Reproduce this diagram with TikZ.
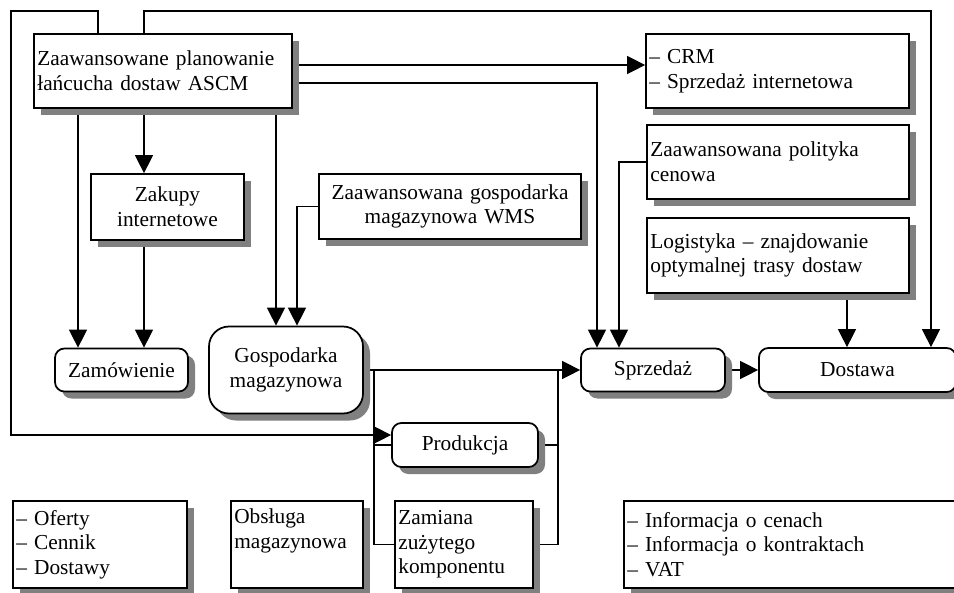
\documentclass[tikz,border=0pt]{standalone}
\usepackage{fontspec}
\setmainfont{Liberation Serif}
\usetikzlibrary{arrows.meta,shadows,backgrounds,calc}

\definecolor{shadowgray}{RGB}{128,128,128}
\tikzset{every picture/.style={line width=0.75pt}}
\tikzset{
  box/.style={draw, line width=1.3pt, fill=white, inner xsep=2.5pt, inner ysep=0pt,
    align=left, font=\fontsize{16}{18.5}\selectfont,
    drop shadow={shadow xshift=5.25pt, shadow yshift=-5.25pt, fill=shadowgray, opacity=1}},
  roundbox/.style={box, align=center, rounded corners=7pt},
  arr/.style={line width=1pt, -{Triangle[length=13.5pt,width=13.5pt]}},
  link/.style={line width=1pt},
}

\begin{document}
\begin{tikzpicture}[x=0.75pt,y=0.75pt,yscale=-1,xscale=1]
\useasboundingbox (0,0) rectangle (954,593);

% planning boxes
\node[box, text width=188.5pt, minimum height=55.5pt] (ascm) at (163,71) {Zaawansowane planowanie\\łańcucha dostaw ASCM};
\node[box, text width=192.25pt, minimum height=55.5pt] (crm) at (777.5,71) {-- CRM\\-- Sprzedaż internetowa};
\node[box, text width=191.5pt, minimum height=55.5pt] (pol) at (778,162) {Zaawansowana polityka\\cenowa};
\node[box, text width=191.5pt, minimum height=56.25pt] (log) at (778,255.5) {Logistyka -- znajdowanie\\optymalnej trasy dostaw};
\node[box, align=center, text width=109.75pt, minimum height=49.5pt] (zak) at (167.5,207) {Zakupy\\internetowe};
\node[box, align=center, text width=191.5pt, minimum height=48.75pt] (wms) at (450,206.5) {Zaawansowana gospodarka\\magazynowa WMS};

% process row
\node[roundbox, text width=94.75pt, minimum height=32.25pt] (zam) at (121.5,370) {Zamówienie};
\node[roundbox, rounded corners=15pt, text width=110.5pt, minimum height=65.25pt] (gosp) at (286,370) {Gospodarka\\magazynowa};
\node[roundbox, text width=103pt, minimum height=32.25pt] (sprz) at (653,370) {Sprzedaż};
\node[roundbox, text width=142.75pt, minimum height=33pt] (dost) at (857.5,370) {Dostawa};
\node[roundbox, text width=104.5pt, minimum height=33pt] (prod) at (465,445) {Produkcja};

% bottom boxes
\node[box, text width=125.5pt, minimum height=65.25pt] (oferty) at (100,544.5) {-- Oferty\\-- Cennik\\-- Dostawy};
\node[box, text width=94pt, minimum height=65.25pt] (obs) at (297,544.5) {Obsługa\\magazynowa\\\strut};
\node[box, text width=98.5pt, minimum height=65.25pt] (zamiana) at (464,544.5) {Zamiana\\zużytego\\komponentu};
\node[box, text width=243.25pt, minimum height=65.25pt] (info) at (789.5,544.5) {-- Informacja o cenach\\-- Informacja o kontraktach\\-- VAT};

\coordinate (busL) at ($(gosp.east)+(10,0)$);
\coordinate (busR) at ($(sprz.west)+(-22,0)$);

\begin{scope}[on background layer]
% outer loops from the planning box
\draw[arr] ($(ascm.north)+(-65,0)$) |- (11,11) |- ($(prod.west)+(0,-10)$);
\draw[arr] ($(ascm.north)+(-19,0)$) |- (931,11) -- ($(dost.north)+(73.5,0)$);
\draw[arr] ($(ascm.east)+(0,-6)$) -- ($(crm.west)+(0,-6)$);
\draw[arr] ($(ascm.east)+(0,12)$) -| ($(sprz.north)+(-56,0)$);
\draw[arr] ($(ascm.south)+(-85,0)$) -- ($(zam.north)+(-43.5,0)$);
\draw[arr] ($(ascm.south)+(-19,0)$) -- ($(zak.north)+(-23.5,0)$);
\draw[arr] ($(zak.south)+(-23.5,0)$) -- ($(zam.north)+(22.5,0)$);
\draw[arr] ($(ascm.south)+(113,0)$) -- ($(gosp.north)+(-10,0)$);
\draw[arr] (wms.west) -| ($(gosp.north)+(11,0)$);
\draw[arr] (pol.west) -| ($(sprz.north)+(-34,0)$);
\draw[arr] ($(log.south)+(69,0)$) -- ($(dost.north)+(-10.5,0)$);
% main flow
\draw[arr] (gosp.east) -- (sprz.west);
\draw[arr] (sprz.east) -- (dost.west);
% production branch
\draw[link] (busL) |- (zamiana.west);
\draw[link] (busL |- prod.west) -- (prod.west);
\draw[link] (zamiana.east) -| (busR);
\draw[link] (prod.east) -- (prod.east -| busR);
\end{scope}

\end{tikzpicture}
\end{document}
